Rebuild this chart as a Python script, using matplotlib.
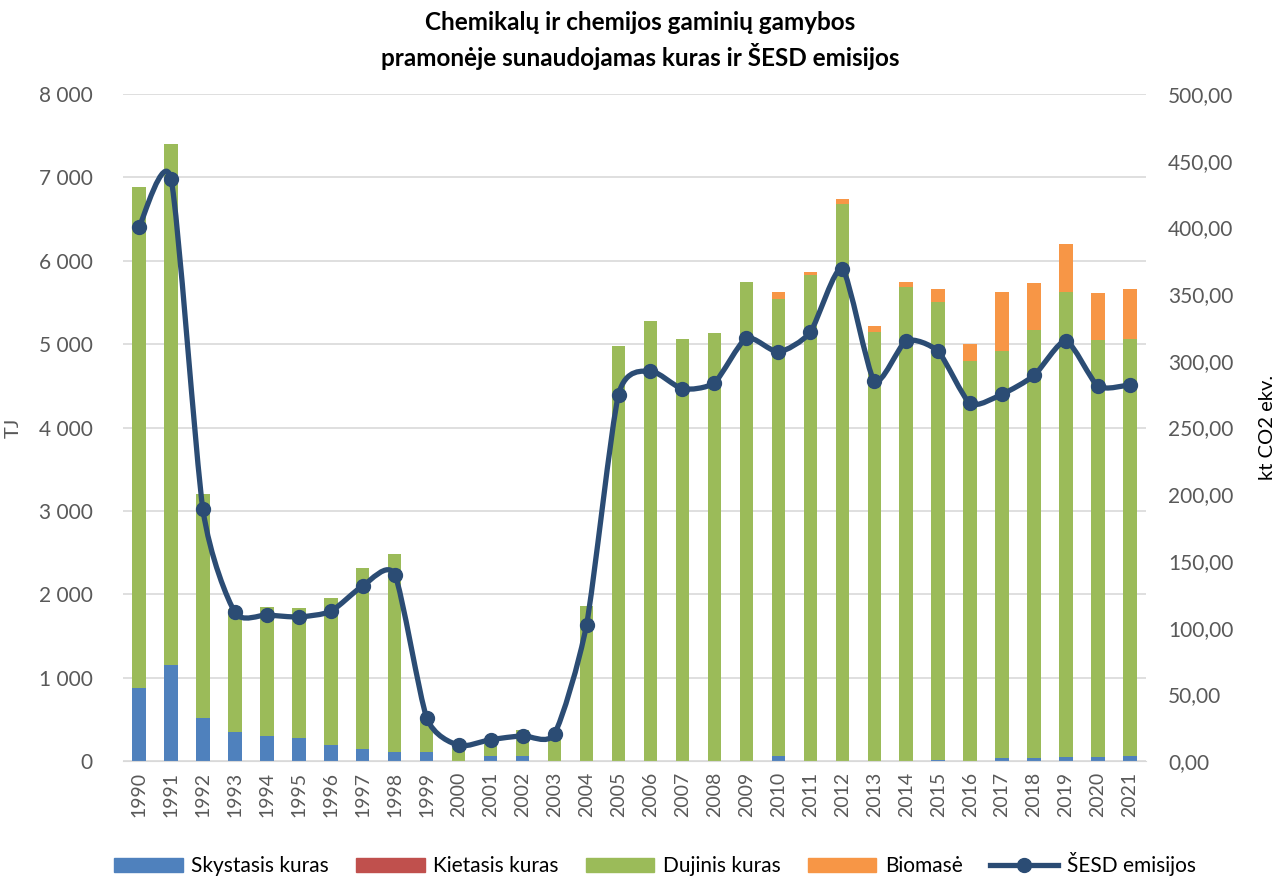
import matplotlib.pyplot as plt
import numpy as np
from matplotlib.path import Path
from matplotlib.patches import PathPatch, Patch
from matplotlib.lines import Line2D
from matplotlib.ticker import FuncFormatter

plt.rcParams['font.family'] = ['Lato', 'DejaVu Sans']

years = list(range(1990, 2022))

# TJ by fuel type
skystasis = [875, 1150, 510, 350, 305, 270, 190, 150, 113, 110, 0, 60, 60, 0, 0,
             5, 5, 5, 5, 5, 60, 5, 5, 5, 5, 10, 5, 40, 40, 50, 50, 60]
kietasis = [0] * 32
dujinis = [6015, 6255, 2690, 1470, 1545, 1560, 1770, 2165, 2367, 410, 160, 140, 315, 300, 1860,
           4970, 5275, 5060, 5130, 5735, 5480, 5830, 6680, 5145, 5680, 5500, 4795, 4875, 5130, 5575, 4995, 5005]
biomase = [0] * 15 + [5, 0, 0, 0, 0, 90, 30, 50, 70, 60, 155, 205, 705, 560, 575, 570, 600]

# kt CO2 ekv.
emisijos = [400, 436.5, 188.6, 111.5, 109.5, 108, 112.2, 131.3, 139.7, 32.5, 11.7, 16, 19, 20.5, 102.2,
            274.5, 292.3, 279, 283.6, 317, 306.6, 321.5, 369, 285, 315, 307, 268, 275, 289, 315, 281, 282]

c_blue = '#4F81BD'
c_red = '#C0504D'
c_green = '#9BBB59'
c_orange = '#F79646'
c_line = '#2B4C74'
grey = '#595959'

fig = plt.figure(figsize=(12.84, 8.81), dpi=100)
ax = fig.add_axes([0.0958, 0.1362, 0.7967, 0.7571])
ax2 = ax.twinx()

x = np.arange(len(years))
w = 0.42
b1 = np.array(skystasis)
b2 = b1 + np.array(kietasis)
b3 = b2 + np.array(dujinis)
ax.bar(x, skystasis, w, color=c_blue, zorder=2)
ax.bar(x, kietasis, w, bottom=b1, color=c_red, zorder=2)
ax.bar(x, dujinis, w, bottom=b2, color=c_green, zorder=2)
ax.bar(x, biomase, w, bottom=b3, color=c_orange, zorder=2)

ax.set_xlim(-0.5, len(years) - 0.5)
ax.set_ylim(0, 8000)
ax.set_yticks(range(0, 8001, 1000))
ax.yaxis.set_major_formatter(FuncFormatter(lambda v, p: f'{int(v):,}'.replace(',', ' ')))
ax.grid(axis='y', color='#D9D9D9', linewidth=1.2, zorder=0)
ax.set_axisbelow(True)
ax.set_xticks(x)
ax.set_xticklabels([str(y) for y in years], rotation=90, fontsize=14, color=grey)
ax.tick_params(axis='y', labelsize=15, colors=grey, length=0, pad=22)
ax.tick_params(axis='x', length=0, pad=8)
for s in ['top', 'right', 'left']:
    ax.spines[s].set_visible(False)
    ax2.spines[s].set_visible(False)
ax.spines['bottom'].set_color('#D9D9D9')
ax2.spines['bottom'].set_visible(False)
ax.set_ylabel('TJ', fontsize=14.5, color=grey, labelpad=12)

# smoothed line (Excel-style), bezier through the data points
ex = x.astype(float)
ey = np.array(emisijos, dtype=float)
k = 0.11
verts = [(ex[0], ey[0])]
codes = [Path.MOVETO]
n = len(ex)
for i in range(n - 1):
    p0 = (ex[max(i - 1, 0)], ey[max(i - 1, 0)])
    p1 = (ex[i], ey[i])
    p2 = (ex[i + 1], ey[i + 1])
    p3 = (ex[min(i + 2, n - 1)], ey[min(i + 2, n - 1)])
    c1 = (p1[0] + (p2[0] - p0[0]) * k, p1[1] + (p2[1] - p0[1]) * k)
    c2 = (p2[0] - (p3[0] - p1[0]) * k, p2[1] - (p3[1] - p1[1]) * k)
    verts += [c1, c2, p2]
    codes += [Path.CURVE4] * 3
ax2.add_patch(PathPatch(Path(verts, codes), facecolor='none', edgecolor=c_line,
                        linewidth=3.8, capstyle='round', joinstyle='round', zorder=3))
ax2.plot(ex, ey, 'o', color=c_line, markersize=10, zorder=4)
ax2.set_ylim(0, 500)
ax2.set_yticks(range(0, 501, 50))
ax2.yaxis.set_major_formatter(FuncFormatter(lambda v, p: f'{v:.2f}'.replace('.', ',')))
ax2.tick_params(axis='y', labelsize=15, colors=grey, length=0, pad=16)
ax2.set_ylabel('kt CO2 ekv.', fontsize=14.5, color='black', labelpad=18)

fig.text(0.4985, 0.987, 'Chemikalų ir chemijos gaminių gamybos\npramonėje sunaudojamas kuras ir ŠESD emisijos',
         ha='center', va='top', fontsize=17.5, fontweight='bold', linespacing=1.35)

handles = [Patch(color=c_blue), Patch(color=c_red), Patch(color=c_green), Patch(color=c_orange),
           Line2D([], [], color=c_line, linewidth=3.8, marker='o', markersize=10)]
labels = ['Skystasis kuras', 'Kietasis kuras', 'Dujinis kuras', 'Biomasė', 'ŠESD emisijos']
fig.legend(handles, labels, loc='lower center', bbox_to_anchor=(0.51, -0.016), ncol=5, frameon=False,
           fontsize=15, handlelength=3.3, handleheight=0.6, columnspacing=1.3, handletextpad=0.4)

fig.savefig('out.png', dpi=100)
